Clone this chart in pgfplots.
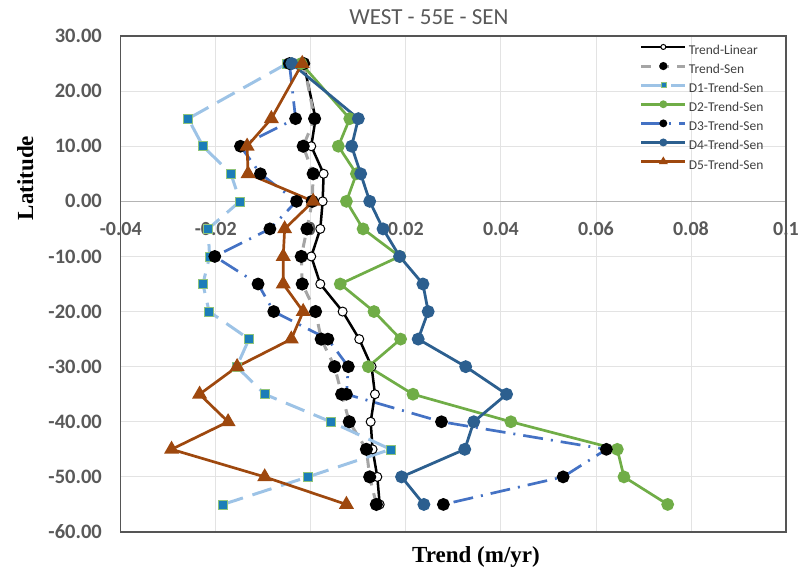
\documentclass[border=0pt]{standalone}
\usepackage{pgfplots}
\pgfplotsset{compat=1.18}
\usepackage{fontspec}
\setmainfont{Carlito}
\newfontfamily\serifb{Liberation Serif}
\definecolor{dOne}{HTML}{9DC3E6}
\definecolor{dOneMark}{HTML}{1B7DB8}
\definecolor{dOneEdge}{HTML}{8FC47A}
\definecolor{dTwo}{HTML}{70AD47}
\definecolor{dThree}{HTML}{4472C4}
\definecolor{dFour}{HTML}{2C5F8F}
\definecolor{dFive}{HTML}{9E480E}
\definecolor{senGray}{HTML}{A5A5A5}
\definecolor{gridgray}{HTML}{E3E3E3}
\definecolor{zerogray}{HTML}{B4B4B4}
\definecolor{axisgray}{HTML}{555555}
\definecolor{tickgray}{HTML}{595959}
\definecolor{legtext}{HTML}{404040}
\begin{document}
\begin{tikzpicture}
\begin{axis}[
  set layers,
  at={(120.7pt,43pt)}, anchor=south west,
  scale only axis, width=665.3pt, height=496pt,
  xmin=-0.04, xmax=0.1, ymin=-60, ymax=30,
  xtick={-0.04,-0.02,0,0.02,0.04,0.06,0.08,0.1},
  xticklabels={-0.04,-0.02,0,0.02,0.04,0.06,0.08,0.1},
  ytick={-60,-50,-40,-30,-20,-10,0,10,20,30},
  yticklabels={-60.00,-50.00,-40.00,-30.00,-20.00,-10.00,0.00,10.00,20.00,30.00},
  extra y ticks={0}, extra y tick labels={},
  extra y tick style={major grid style={color=zerogray, line width=1.1pt}},
  grid=major, major grid style={color=gridgray, line width=0.8pt},
  major tick length=0pt,
  axis line style={draw=axisgray, line width=1.2pt},
  xticklabel style={anchor=center, yshift=303pt, inner sep=0pt, text=tickgray, font=\bfseries\fontsize{20}{24}\selectfont},
  yticklabel style={anchor=east, xshift=-18.7pt, inner sep=0pt, text=tickgray, font=\bfseries\fontsize{20.5}{24}\selectfont},
  legend style={draw=none, fill=none, at={(axis description cs:0.78,0.9895)}, anchor=north west,
    inner sep=0pt, row sep=0pt, font=\fontsize{13.5}{16}\selectfont, text=legtext,
    nodes={inner ysep=0pt, inner xsep=2pt, text height=13pt, text depth=6.1pt},
    /tikz/every even column/.append style={column sep=0pt}},
  legend cell align=left,
  legend image code/.code={
    \draw[mark repeat=2, mark phase=2, #1] plot coordinates {(0pt,4pt) (22pt,4pt) (44pt,4pt)};
  },
  legend image post style={mark size=2.5pt},
]
% Trend-Linear
\addplot[black, line width=2.5pt, mark=*, mark size=4.5pt, mark options={solid, fill=white, draw=black, line width=1pt}] coordinates {
(-0.0015,25) (0.001,15) (0.0001,10) (0.0027,5) (0.0025,0) (0.002,-5) (0.0001,-10) (0.002,-15) (0.0067,-20) (0.0102,-25) (0.0128,-30) (0.0135,-35) (0.0126,-40) (0.013,-45) (0.014,-50) (0.0145,-55)};
\addlegendentry{Trend-Linear}
% Trend-Sen
\addplot[senGray, line width=3pt, dash pattern=on 10pt off 8pt, mark=*, mark size=5pt, mark options={solid, fill=black, draw=black}] coordinates {
(-0.0015,25) (0.0008,15) (-0.0016,10) (0.0005,5) (0.0003,0) (-0.0008,-5) (-0.002,-10) (-0.0018,-15) (0.001,-20) (0.0022,-25) (0.005,-30) (0.0065,-35) (0.0081,-40) (0.0117,-45) (0.0124,-50) (0.0138,-55)};
\addlegendentry{Trend-Sen}
% D1
\addplot[dOne, line width=3pt, dash pattern=on 20pt off 10pt, mark=square*, mark size=4.5pt, mark options={solid, fill=dOneMark, draw=dOneEdge, line width=0.6pt}] coordinates {
(-0.005,25) (-0.0258,15) (-0.0227,10) (-0.0168,5) (-0.0149,0) (-0.0216,-5) (-0.0213,-10) (-0.0227,-15) (-0.0214,-20) (-0.013,-25) (-0.0156,-30) (-0.0097,-35) (0.0042,-40) (0.0168,-45) (-0.0006,-50) (-0.0185,-55)};
\addlegendentry{D1-Trend-Sen}
% D2
\addplot[dTwo, line width=2.7pt, mark=*, mark size=5pt, mark options={solid, fill=dTwo, draw=dTwo}] coordinates {
(-0.002,25) (0.0082,15) (0.0058,10) (0.0096,5) (0.0075,0) (0.011,-5) (0.0187,-10) (0.0062,-15) (0.0133,-20) (0.0189,-25) (0.0121,-30) (0.0215,-35) (0.0421,-40) (0.0645,-45) (0.0659,-50) (0.0751,-55)};
\addlegendentry{D2-Trend-Sen}
% D3
\addplot[dThree, line width=2.7pt, dash pattern=on 20pt off 8pt on 2pt off 8pt, mark=*, mark size=5pt, mark options={solid, fill=black, draw=black}] coordinates {
(-0.0045,25) (-0.0032,15) (-0.0148,10) (-0.0106,5) (-0.003,0) (-0.0086,-5) (-0.0202,-10) (-0.0111,-15) (-0.0078,-20) (0.0036,-25) (0.0079,-30) (0.0075,-35) (0.0275,-40) (0.0622,-45) (0.0531,-50) (0.0279,-55)};
\addlegendentry{D3-Trend-Sen}
% D4
\addplot[dFour, line width=2.8pt, mark=*, mark size=5pt, mark options={solid, fill=dFour, draw=dFour}] coordinates {
(-0.004,25) (0.01,15) (0.0086,10) (0.0105,5) (0.0124,0) (0.0152,-5) (0.0187,-10) (0.0236,-15) (0.0247,-20) (0.0226,-25) (0.0326,-30) (0.0412,-35) (0.0343,-40) (0.0324,-45) (0.0191,-50) (0.0238,-55)};
\addlegendentry{D4-Trend-Sen}
% D5
\addplot[dFive, line width=2.7pt, mark=triangle*, mark size=6pt, mark options={solid, fill=dFive, draw=dFive}] coordinates {
(-0.0018,25) (-0.0083,15) (-0.0134,10) (-0.0132,5) (0.0005,0) (-0.0055,-5) (-0.0058,-10) (-0.0058,-15) (-0.0016,-20) (-0.0041,-25) (-0.0155,-30) (-0.0234,-35) (-0.0174,-40) (-0.0293,-45) (-0.0097,-50) (0.0075,-55)};
\addlegendentry{D5-Trend-Sen}
\end{axis}
\node[text=tickgray, font=\fontsize{23}{27}\selectfont] at (429pt,558pt) {WEST - 55E - SEN};
\node[anchor=base, font=\serifb\bfseries\fontsize{23}{27}\selectfont] at (476pt,12pt) {Trend (m/yr)};
\node[rotate=90, anchor=base, font=\serifb\bfseries\fontsize{23}{27}\selectfont] at (33pt,397pt) {Latitude};
\pgfresetboundingbox
\useasboundingbox (0pt,0pt) rectangle (803pt,575pt);
\end{tikzpicture}
\end{document}
